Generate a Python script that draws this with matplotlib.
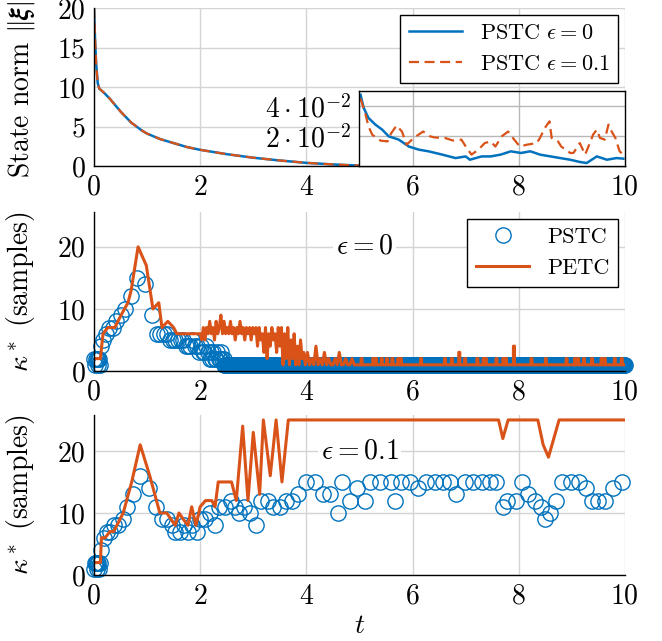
import matplotlib
matplotlib.use("Agg")
import matplotlib.pyplot as plt
import numpy as np

plt.rcParams.update({
    "font.family": "serif",
    "font.serif": ["cmr10"],
    "mathtext.fontset": "cm",
    "axes.unicode_minus": False,
    "font.size": 20,
})

blue = "#0072BD"
orange = "#D95319"
h = 0.01  # sample period

# --- top panel: state norm ---
norm_head_t = [0, 0.02, 0.04, 0.07, 0.1, 0.2, 0.3, 0.4, 0.5, 0.6, 0.7, 0.8, 0.9,
               1.0, 1.25, 1.5, 1.75, 2.0, 2.5, 3.0, 3.5, 4.0, 4.5]
norm_head = [20, 16, 13, 10.5, 9.8, 9.2, 8.5, 7.7, 6.9, 6.2, 5.5, 5.0, 4.5,
             4.1, 3.4, 2.9, 2.4, 2.05, 1.5, 1.05, 0.7, 0.4, 0.2]

tail0_t = [5.02, 5.08, 5.17, 5.3, 5.43, 5.55, 5.74, 5.93, 6.12, 6.3, 6.56, 6.81,
           7.0, 7.08, 7.3, 7.47, 7.66, 7.85, 8.04, 8.22, 8.4, 8.6, 8.78, 8.97,
           9.15, 9.28, 9.47, 9.66, 9.84, 9.97]
tail0 = [0.0475, 0.0387, 0.032, 0.0276, 0.0242, 0.0198, 0.0176, 0.013, 0.0109,
         0.0098, 0.0076, 0.0053, 0.0064, 0.0042, 0.0064, 0.0064, 0.0076, 0.0098,
         0.0087, 0.0098, 0.0076, 0.0064, 0.0053, 0.0042, 0.0027, 0.002, 0.0064,
         0.0042, 0.0053, 0.0049]

tail1_t = [5.02, 5.11, 5.17, 5.24, 5.4, 5.53, 5.6, 5.7, 5.8, 5.89, 6.02, 6.2,
           6.33, 6.42, 6.61, 6.76, 6.92, 7.02, 7.11, 7.24, 7.36, 7.47, 7.56,
           7.68, 7.8, 7.89, 8.02, 8.15, 8.34, 8.4, 8.49, 8.58, 8.62, 8.74, 8.8,
           8.97, 9.03, 9.15, 9.25, 9.34, 9.4, 9.47, 9.53, 9.62, 9.69, 9.75,
           9.82, 9.9, 9.97]
tail1 = [0.045, 0.035, 0.0264, 0.0209, 0.0169, 0.0164, 0.022, 0.027, 0.023,
         0.0142, 0.0187, 0.023, 0.0198, 0.019, 0.0187, 0.017, 0.0176, 0.012,
         0.0076, 0.0109, 0.0153, 0.0164, 0.013, 0.0198, 0.023, 0.0187, 0.013,
         0.0142, 0.0153, 0.0187, 0.0253, 0.0298, 0.0187, 0.0164, 0.013, 0.0087,
         0.0087, 0.0153, 0.0076, 0.0153, 0.0209, 0.0242, 0.0187, 0.0176,
         0.0276, 0.023, 0.0187, 0.0098, 0.0076]

# --- middle panel: eps = 0 ---
pstc0_k = ([2, 1, 2, 2, 1, 2, 2, 1, 4, 5, 6, 7, 7, 8, 9, 10, 12, 15, 14, 9,
            6, 6, 6, 6, 5, 5, 5, 5, 5, 5, 4, 4, 4, 5, 4, 4, 3, 4, 3, 3, 4, 3,
            2, 3, 2, 3, 2, 2, 3, 2, 2, 3, 2, 1, 2] + [1] * 760)

petc0_t = [0.02, 0.05, 0.08, 0.12, 0.17, 0.26, 0.39, 0.51, 0.64, 0.70, 0.83,
           0.985, 1.11, 1.22, 1.28, 1.39, 1.50, 1.56, 2.0,
           2.03, 2.06, 2.09, 2.12, 2.15, 2.18, 2.21, 2.24, 2.27, 2.30, 2.33,
           2.36, 2.39, 2.42, 2.45, 2.48, 2.51, 2.54, 2.57, 2.60, 2.63, 2.66,
           2.69, 2.72, 2.75, 2.78, 2.81, 2.84, 2.87, 2.90, 2.93, 2.96, 2.99,
           3.02, 3.05, 3.08, 3.11, 3.14, 3.17, 3.20, 3.23, 3.26, 3.29, 3.32,
           3.35, 3.38, 3.41, 3.44, 3.47, 3.50, 3.53, 3.56, 3.59, 3.62, 3.65,
           3.68, 3.71, 3.74, 3.77, 3.80, 3.83, 3.86, 3.89, 3.92, 3.95, 3.98,
           4.02, 4.06, 4.10, 4.14, 4.18, 4.22, 4.26, 4.30, 4.34, 4.38, 4.42,
           4.46, 4.50, 4.54, 4.58, 4.62, 4.66, 4.70, 4.74, 4.78, 4.82, 4.86,
           4.90]
petc0_k = [2, 2, 2, 2, 6, 7, 7, 9, 11, 13, 20, 17, 10, 11, 7, 8, 7, 6, 6,
           5, 7, 5, 7, 6, 8, 6, 7, 5, 8, 6, 7, 9, 6, 8, 6, 7, 6, 8, 6, 7, 5,
           7, 6, 8, 6, 7, 5, 7, 6, 7, 5, 7, 6, 7,
           4, 7, 5, 6, 3, 7, 2, 6, 4, 7, 5, 6, 3, 7, 4,
           7, 1, 6, 2, 7, 1, 5, 2, 6, 1, 4, 1, 5, 2, 3, 1,
           3, 1, 2, 1, 4, 1, 2, 1, 3, 1, 2, 1, 1, 2, 1, 3, 1, 1, 2, 1, 1, 2, 1]
petc0_spike_t = [5.04, 5.26, 5.31, 5.42, 5.52, 5.62, 5.73, 5.78, 6.16, 6.61,
                 6.74, 6.88, 6.99, 7.22, 7.34, 7.38, 7.58, 7.71, 7.76, 7.91,
                 8.24, 8.51, 8.90, 9.06, 9.12, 9.23, 9.38, 9.56, 9.62, 9.81,
                 9.94]
petc0_spike_k = [2, 2, 2, 2, 2, 2, 2, 2, 2, 2, 2, 3, 2, 2, 2, 2, 2, 2, 2, 4,
                 2, 2, 2, 2, 2, 2, 2, 2, 2, 2, 2]

# --- bottom panel: eps = 0.1 ---
pstc1_t = [0.0, 0.01, 0.03, 0.05, 0.06, 0.08, 0.1, 0.11, 0.14, 0.18, 0.24,
           0.31, 0.38, 0.46, 0.54, 0.63, 0.74, 0.87, 1.03, 1.17, 1.28, 1.37,
           1.46, 1.53, 1.62, 1.7, 1.77, 1.85, 1.94, 2.0, 2.09, 2.18, 2.28,
           2.36, 2.47, 2.58, 2.65, 2.74, 2.82, 2.94, 3.06, 3.14, 3.27, 3.37,
           3.5, 3.62, 3.72, 3.85, 4.0, 4.16, 4.31, 4.45, 4.59, 4.67, 4.83,
           4.95, 5.11, 5.19, 5.39, 5.59, 5.67, 5.79, 5.95, 6.1, 6.26, 6.42,
           6.58, 6.7, 6.82, 6.98, 7.14, 7.3, 7.46, 7.58, 7.7, 7.78, 7.94, 8.06,
           8.18, 8.3, 8.42, 8.5, 8.58, 8.7, 8.82, 8.98, 9.14, 9.26, 9.38, 9.5,
           9.62, 9.78, 9.95]
pstc1_k = [1, 2, 2, 1, 2, 2, 1, 2, 4, 6, 7, 7, 8, 8, 9, 11, 13, 16, 14, 11, 9,
           9, 8, 7, 7, 8, 7, 8, 7, 9, 9, 10, 8, 11, 11, 12, 11, 10, 11, 10, 8,
           12, 12, 11, 11, 12, 12, 13, 15, 15, 13, 13, 10, 15, 12, 14, 12, 15,
           15, 15, 12, 15, 15, 14, 15, 15, 15, 15, 13, 15, 15, 15, 15, 15, 11,
           12, 12, 15, 13, 12, 11, 9, 10, 12, 15, 15, 15, 14, 12, 12, 12, 14,
           15]

petc1_t = [0.04, 0.12, 0.14, 0.21, 0.30, 0.37, 0.43, 0.55, 0.71, 0.87, 1.05,
           1.24, 1.37, 1.53, 1.60, 1.68, 1.77, 1.84, 1.92, 2.00, 2.10, 2.22,
           2.28, 2.34, 2.59, 2.68, 2.80, 2.90, 3.00, 3.12, 3.19, 3.32, 3.43,
           3.54, 3.66, 7.62, 7.70, 7.80, 8.36, 8.46, 8.56, 8.76, 10.0]
petc1_k = [2, 2, 6, 6, 7, 7, 8, 10, 15, 21, 16, 10, 10, 8, 10, 9, 8, 11, 8,
           11, 12, 12, 11, 15, 15, 12, 24, 12, 23, 13, 25, 16, 25, 15, 25, 25,
           22, 25, 25, 21, 19, 25, 25]

# PSTC event times from inter-event samples
pstc0_t = np.concatenate([[0.0], np.cumsum(pstc0_k[:-1]) * h])
keep = pstc0_t <= 10.0
pstc0_t = pstc0_t[keep]
pstc0_k = np.array(pstc0_k)[keep]

# PETC tail: baseline of 1 sample with short spikes
tail_t, tail_k = [4.92], [1]
for ts, ks in zip(petc0_spike_t, petc0_spike_k):
    tail_t += [ts - h, ts - h, ts + h, ts + h]
    tail_k += [1, ks, ks, 1]
tail_t.append(10.0)
tail_k.append(1)
petc0_all_t = petc0_t + tail_t
petc0_all_k = petc0_k + tail_k

fig = plt.figure(figsize=(6.62, 6.41), dpi=100)
left, width = 0.142, 0.802
ax1 = fig.add_axes([left, 0.741, width, 0.2465])
ax2 = fig.add_axes([left, 0.4212, width, 0.248])
ax3 = fig.add_axes([left, 0.103, width, 0.2496])


def style(ax, yt):
    ax.set_xlim(0, 10)
    ax.set_xticks([0, 2, 4, 6, 8, 10])
    ax.set_yticks(yt)
    ax.grid(True, color="#d4d4d4", linewidth=1.0)
    ax.set_axisbelow(True)
    for s in ("top", "right"):
        ax.spines[s].set_visible(False)
    for s in ("left", "bottom"):
        ax.spines[s].set_linewidth(1.0)
    ax.tick_params(length=0, pad=6)
    ax.yaxis.set_label_coords(-0.108, 0.5)


# top
style(ax1, [0, 5, 10, 15, 20])
ax1.set_ylim(0, 20)
ax1.plot(norm_head_t + tail0_t, norm_head + tail0, color=blue, lw=1.8,
         label=r"PSTC $\epsilon = 0$")
ax1.plot(norm_head_t + tail1_t, norm_head + tail1, color=orange, lw=1.6,
         dashes=(4.5, 2.5), label=r"PSTC $\epsilon = 0.1$")
ax1.set_ylabel(r"State norm $\|\boldsymbol{\xi}\|$")
ax1.legend(loc="upper right", fancybox=False, edgecolor="black",
           framealpha=1, fontsize=16, borderaxespad=0.3, handlelength=2.4)

ins = fig.add_axes([0.543, 0.741, 0.401, 0.117])
ins.plot(tail0_t, tail0, color=blue, lw=1.8)
ins.plot(tail1_t, tail1, color=orange, lw=1.6, dashes=(4.5, 2.5))
ins.set_xlim(5, 10)
ins.set_ylim(0, 0.05)
ins.set_xticks([6, 8])
ins.set_xticklabels([])
ins.set_yticks([0.02, 0.04])
ins.set_yticklabels([r"$2\cdot10^{-2}$", r"$4\cdot10^{-2}$"])
ins.grid(True, color="#b8b8b8", linewidth=1.0)
ins.set_axisbelow(True)
ins.tick_params(length=0, pad=6, labelsize=20)
for s in ins.spines.values():
    s.set_linewidth(1.0)

# middle
style(ax2, [0, 10, 20])
ax2.set_ylim(0, 25.6)
ax2.plot(pstc0_t, pstc0_k, "o", ms=11, mfc="none", mec=blue, mew=1.0,
         clip_on=False, label="PSTC")
ax2.plot(petc0_all_t, petc0_all_k, color=orange, lw=2.2, label="PETC")
ax2.set_ylabel(r"$\kappa^*$ (samples)")
ax2.legend(loc="upper right", fancybox=False, edgecolor="black",
           framealpha=1, fontsize=16, borderaxespad=0.3, handlelength=2.4)
ax2.text(5.1, 20, r"$\epsilon = 0$", ha="center", va="center",
         bbox=dict(facecolor="white", edgecolor="none", pad=2))

# bottom
style(ax3, [0, 10, 20])
ax3.set_ylim(0, 25.8)
ax3.plot(pstc1_t, pstc1_k, "o", ms=11, mfc="none", mec=blue, mew=1.0,
         clip_on=False)
ax3.plot(petc1_t, petc1_k, color=orange, lw=2.2)
ax3.set_ylabel(r"$\kappa^*$ (samples)")
ax3.set_xlabel(r"$t$", labelpad=2)
ax3.text(5.0, 20, r"$\epsilon = 0.1$", ha="center", va="center",
         bbox=dict(facecolor="white", edgecolor="none", pad=2))

fig.savefig("out.png", dpi=100)
